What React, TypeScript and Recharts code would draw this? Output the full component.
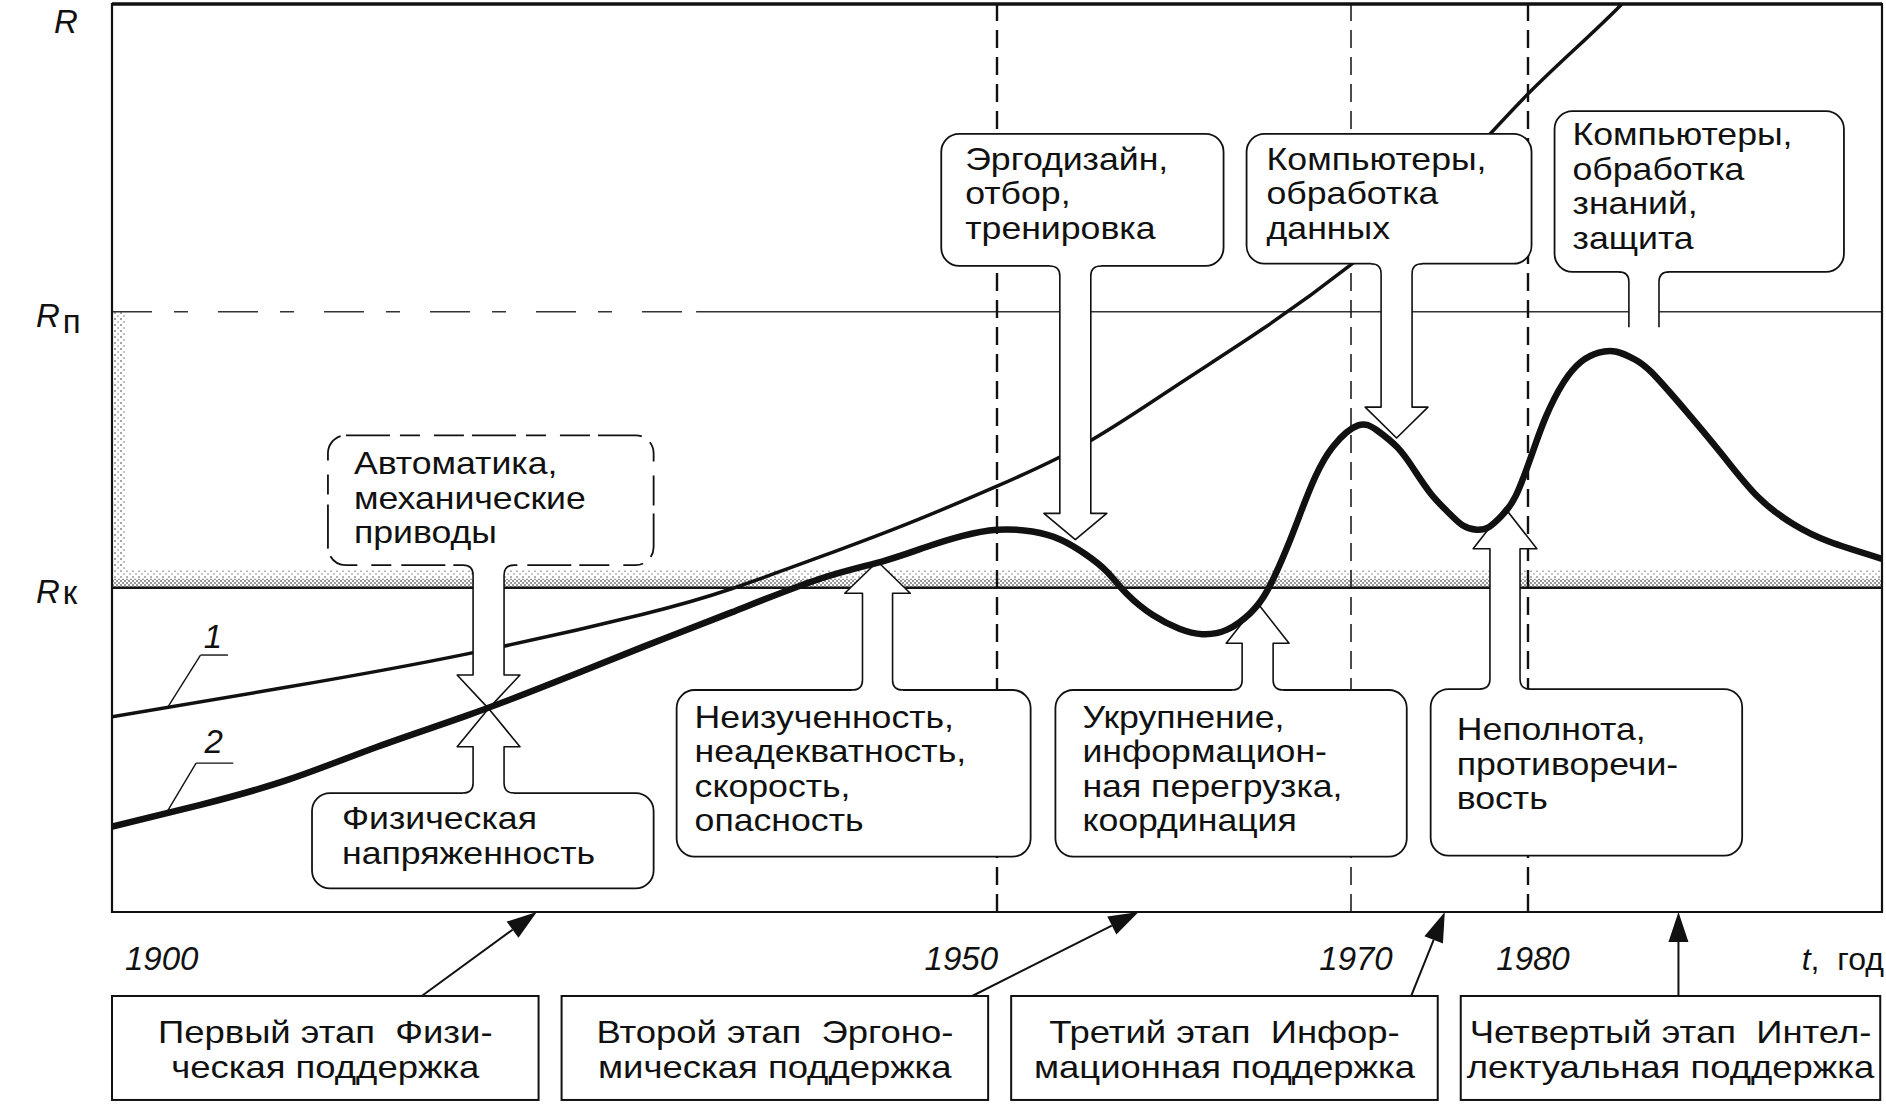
import { LineChart, Line, XAxis, YAxis, ReferenceArea, ReferenceLine, ReferenceDot } from 'recharts'

// curve 1 (thin) and curve 2 (thick)
const years1 = [1900, 1910, 1920, 1930, 1935, 1940, 1945, 1950, 1955, 1960, 1965, 1970, 1975, 1980, 1985, 1990]
const curve1 = [21.5, 24.8, 28.4, 32.8, 35.6, 39.1, 42.8, 46.9, 51.6, 57.8, 64.2, 71.3, 79.8, 90.1, 99.4, 110]

const years2 = [
  1900, 1905, 1910, 1915, 1920, 1925, 1930, 1935, 1940, 1943.5, 1946, 1948, 1950, 1952, 1953.6, 1955,
  1956.2, 1957.3, 1958.8, 1960.3, 1961.6, 1963, 1964.3, 1965.3, 1966.4, 1967.2, 1968, 1969, 1970.4,
  1971.5, 1972.6, 1973.5, 1974.5, 1975.5, 1976.3, 1977.1, 1977.8, 1978.5, 1979.3, 1980.2, 1981, 1982,
  1983, 1984, 1985, 1986, 1987, 1989, 1991, 1993, 1995, 1997, 2000,
]
const curve2 = [
  9.4, 11.8, 14.6, 18.2, 21.6, 25.3, 29.2, 33.0, 36.7, 38.6, 40.2, 41.4, 42.1, 41.9, 41.0, 39.4,
  37.5, 35.1, 32.7, 31.2, 30.6, 31.1, 32.9, 35.5, 40.2, 44.2, 48.0, 51.3, 53.6,
  53.0, 51.2, 48.9, 46.1, 44.0, 42.6, 42.1, 42.4, 43.6, 45.8, 50.3, 54.5, 58.3,
  60.6, 61.6, 61.7, 60.9, 59.4, 55.0, 50.3, 45.7, 42.7, 40.8, 38.9,
]

// levels R, Rп, Rк
const levelValues = [100, 66.1, 35.7]
const levelNames = ['', 'п', 'к']

const xTicks = [1900, 1950, 1970, 1980, 2000]
const xTickLabels = ['1900', '1950', '1970', '1980', 'год']

const stageLines = [
  ['Первый этап  Физи-', 'ческая поддержка'],
  ['Второй этап  Эргоно-', 'мическая поддержка'],
  ['Третий этап  Инфор-', 'мационная поддержка'],
  ['Четвертый этап  Интел-', 'лектуальная поддержка'],
]
const stageFrom = [1900, 1925.4, 1950.8, 1976.2]
const stageTo = [1924.1, 1949.5, 1974.9, 1999.9]
const stageArrowFrom = [1917.5, 1948.6, 1973.4, 1988.5]
const stageArrowTo = [1924.0, 1958.0, 1975.3, 1988.5]

const line1 = years1.map((t, i) => ({ t, v: curve1[i] }))
const line2 = years2.map((t, i) => ({ t, v: curve2[i] }))

type Note = {
  lines: string[]
  box: [number, number, number, number] // x1, x2, top value, bottom value
  dir: 'up' | 'down'
  stem: [number, number]
  wing: number
  flange: number
  tip?: number
  pad: [number, number]
  dashed?: boolean
}

const notes: Note[] = [
  { lines: ['Автоматика,', 'механические', 'приводы'], box: [1912.2, 1930.6, 52.5, 38.2], dir: 'down', stem: [1920.4, 1922.15], wing: 0.9, flange: 26.1, tip: 22.4, pad: [26, 39], dashed: true },
  { lines: ['Физическая', 'напряженность'], box: [1911.3, 1930.6, 13.1, 2.6], dir: 'up', stem: [1920.4, 1922.15], wing: 0.9, flange: 18.2, tip: 22.4, pad: [30, 36] },
  { lines: ['Неизученность,', 'неадекватность,', 'скорость,', 'опасность'], box: [1931.9, 1951.9, 24.45, 6.1], dir: 'up', stem: [1942.4, 1944.1], wing: 1.0, flange: 35.1, tip: 38.6, pad: [18, 38] },
  { lines: ['Эргодизайн,', 'отбор,', 'тренировка'], box: [1946.85, 1962.8, 85.7, 71.15], dir: 'down', stem: [1953.55, 1955.3], wing: 0.9, flange: 43.9, tip: 41.0, pad: [24, 36] },
  { lines: ['Компьютеры,', 'обработка', 'данных'], box: [1964.1, 1980.2, 85.7, 71.4], dir: 'down', stem: [1971.7, 1973.45], wing: 0.9, flange: 55.6, tip: 52.2, pad: [20, 36] },
  { lines: ['Укрупнение,', 'информацион-', 'ная перегрузка,', 'координация'], box: [1953.3, 1973.15, 24.45, 6.1], dir: 'up', stem: [1963.85, 1965.6], wing: 0.9, flange: 29.6, tip: 34.0, pad: [27, 38] },
  { lines: ['Компьютеры,', 'обработка', 'знаний,', 'защита'], box: [1981.5, 1997.85, 88.2, 70.5], dir: 'down', stem: [1985.7, 1987.4], wing: 0.9, flange: 64.4, pad: [18, 34] },
  { lines: ['Неполнота,', 'противоречи-', 'вость'], box: [1974.5, 1992.1, 24.55, 6.2], dir: 'up', stem: [1977.85, 1979.55], wing: 0.95, flange: 40.0, tip: 44.5, pad: [26, 51] },
]

const FONT = '"Liberation Sans", Arial, Helvetica, sans-serif'
const INK = '#111'
const NOTE_SIZE = 31
const NOTE_GAP = 34.5
const NOTE_STRETCH = 1.15

const boxShape = (n: Note) => (p: any) => {
  const { x, y, width, height } = p
  const tx = x + n.pad[0]
  return (
    <g>
      <rect x={x} y={y} width={width} height={height} rx={18} fill="#fff" stroke={INK} strokeWidth={1.8}
        strokeDasharray={n.dashed ? '44 10 20 14 30 8' : undefined} />
      <text x={tx} y={y + n.pad[1]} fontFamily={FONT} fontSize={NOTE_SIZE} fill={INK}
        transform={`matrix(${NOTE_STRETCH},0,0,1,${tx * (1 - NOTE_STRETCH)},0)`}>
        {n.lines.map((l, i) => (
          <tspan key={i} x={tx} dy={i === 0 ? 0 : NOTE_GAP}>{l}</tspan>
        ))}
      </text>
    </g>
  )
}

const stemShape = (n: Note, part: 'head' | 'stem') => (p: any) => {
  const { x, y, width: w, height: h } = p
  const edge = n.dir === 'down' ? n.box[3] : n.box[2]
  const end = n.tip ?? n.flange
  const x0 = n.stem[0] - n.wing
  const x1 = n.stem[1] + n.wing
  const hi = Math.max(edge, end)
  const lo = Math.min(edge, end)
  const sx = (t: number) => x + (w * (t - x0)) / (x1 - x0)
  const sy = (v: number) => y + (h * (hi - v)) / (hi - lo)
  const d = n.dir === 'down' ? 1 : -1
  const L = sx(n.stem[0])
  const R = sx(n.stem[1])
  const FL = sx(x0)
  const FR = sx(x1)
  const C = (L + R) / 2
  const e = sy(edge)
  const f = sy(n.flange)
  const r = 10
  if (part === 'head') {
    if (n.tip == null) return <g />
    const t = sy(n.tip)
    return <polygon points={`${FL},${f} ${C},${t} ${FR},${f}`} fill="#fff" />
  }
  const fill = `M${L - r},${e - 3 * d} L${L - r},${e} Q${L},${e} ${L},${e + r * d} L${L},${f} L${R},${f} L${R},${e + r * d} Q${R},${e} ${R + r},${e} L${R + r},${e - 3 * d} Z`
  let outline: string
  if (n.tip != null) {
    const t = sy(n.tip)
    outline = `M${L - r},${e} Q${L},${e} ${L},${e + r * d} L${L},${f} L${FL},${f} L${C},${t} L${FR},${f} L${R},${f} L${R},${e + r * d} Q${R},${e} ${R + r},${e}`
  } else {
    outline = `M${L - r},${e} Q${L},${e} ${L},${e + r * d} L${L},${f} M${R},${f} L${R},${e + r * d} Q${R},${e} ${R + r},${e}`
  }
  return (
    <g>
      <path d={fill} fill="#fff" stroke="none" />
      <path d={outline} fill="none" stroke={INK} strokeWidth={1.6} strokeLinejoin="round" />
    </g>
  )
}

const STAGE_STRETCH = 1.14

const stageShape = (lines: string[]) => (p: any) => {
  const { x, y, width, height } = p
  const cx = x + width / 2
  return (
    <g>
      <rect x={x} y={y} width={width} height={height} fill="#fff" stroke={INK} strokeWidth={2} />
      <text x={cx} y={y + 47} textAnchor="middle" fontFamily={FONT} fontSize={32} fill={INK} style={{ whiteSpace: 'pre' }}
        transform={`matrix(${STAGE_STRETCH},0,0,1,${cx * (1 - STAGE_STRETCH)},0)`}>
        {lines.map((l, i) => (
          <tspan key={i} x={cx} dy={i === 0 ? 0 : 35}>{l}</tspan>
        ))}
      </text>
    </g>
  )
}

const arrowShape = (p: any) => {
  const { x, y, width, height } = p
  const sx = x
  const sy = y + height
  const tx = x + width
  const ty = y
  const a = Math.atan2(ty - sy, tx - sx)
  const len = 30
  const hw = 10
  const bx = tx - len * Math.cos(a)
  const by = ty - len * Math.sin(a)
  const nx = -Math.sin(a) * hw
  const ny = Math.cos(a) * hw
  return (
    <g>
      <line x1={sx} y1={sy} x2={bx} y2={by} stroke={INK} strokeWidth={2} />
      <polygon points={`${tx},${ty} ${bx + nx},${by + ny} ${bx - nx},${by - ny}`} fill={INK} />
    </g>
  )
}

const YTick = (p: any) => {
  const { x, y, payload } = p
  const i = levelValues.indexOf(payload.value)
  const sub = levelNames[i]
  if (!sub) {
    return (
      <text x={x - 58} y={y + 29} fontFamily={FONT} fontSize={33} fontStyle="italic" fill={INK}>R</text>
    )
  }
  return (
    <text x={x - 76} y={y + 15} fontFamily={FONT} fontSize={33} fontStyle="italic" fill={INK}>
      R<tspan fontStyle="normal" dx={3} dy={sub === 'п' ? 6 : 1}>{sub}</tspan>
    </text>
  )
}

const XTick = (p: any) => {
  const { x, y, payload } = p
  const i = xTicks.indexOf(payload.value)
  const label = xTickLabels[i]
  if (payload.value === 2000) {
    return (
      <text x={x + 2} y={y + 58} textAnchor="end" fontFamily={FONT} fontSize={32} fill={INK} style={{ whiteSpace: 'pre' }}>
        <tspan fontStyle="italic">t</tspan>,  {label}
      </text>
    )
  }
  const anchor = payload.value === 1900 ? 'start' : payload.value === 1950 ? 'end' : 'middle'
  const dx = payload.value === 1900 ? 13 : payload.value === 1950 ? 1 : 5
  return (
    <text x={x + dx} y={y + 58} textAnchor={anchor} fontFamily={FONT} fontSize={33} fontStyle="italic" fill={INK}>
      {label}
    </text>
  )
}

const curveTag = (label: string) => (p: any) => (
  <text x={p.cx} y={p.cy} textAnchor="middle" fontFamily={FONT} fontSize={33} fontStyle="italic" fill={INK}>{label}</text>
)

export default function App() {
  return (
    <div style={{ width: 1886, height: 1104, background: '#fff' }}>
      <style>{'body{margin:0;background:#fff}'}</style>
      <LineChart width={1886} height={1104} margin={{ top: 4, right: 4, bottom: 0, left: 0 }}>
        <defs>
          <pattern id="dense" width="4" height="4" patternUnits="userSpaceOnUse">
            <rect width="2" height="2" fill="#333" />
            <rect x="2" y="2" width="2" height="2" fill="#333" />
          </pattern>
          <pattern id="sparse" width="6" height="6" patternUnits="userSpaceOnUse">
            <rect width="2" height="2" fill="#666" />
            <rect x="3" y="3" width="2" height="2" fill="#999" />
          </pattern>
        </defs>
        <XAxis type="number" dataKey="t" domain={[1900, 2000]} ticks={xTicks} allowDataOverflow
          axisLine={false} tickLine={false} tickSize={0} tickMargin={0} height={192} tick={<XTick />} interval={0} />
        <YAxis type="number" domain={[0, 100]} ticks={levelValues} allowDataOverflow
          axisLine={false} tickLine={false} tickSize={0} tickMargin={0} width={112} tick={<YTick />} interval={0} />

        {/* stippled bands */}
        <ReferenceArea x1={1900} x2={2000} y1={35.7} y2={36.7} fill="url(#dense)" stroke="none" ifOverflow="visible" zIndex={50} />
        <ReferenceArea x1={1900} x2={2000} y1={36.7} y2={37.6} fill="url(#sparse)" stroke="none" ifOverflow="visible" zIndex={50} />
        <ReferenceArea x1={1900} x2={1900.8} y1={37.6} y2={66.1} fill="url(#sparse)" fillOpacity={0.6} stroke="none" ifOverflow="visible" zIndex={50} />

        {/* levels and stage boundaries */}
        <ReferenceLine segment={[{ x: 1900, y: 66.1 }, { x: 1933, y: 66.1 }]} stroke="#333" strokeWidth={1.5} strokeDasharray="40 22 14 30" ifOverflow="visible" zIndex={60} />
        <ReferenceLine segment={[{ x: 1933, y: 66.1 }, { x: 2000, y: 66.1 }]} stroke="#333" strokeWidth={1.5} ifOverflow="visible" zIndex={60} />
        <ReferenceLine y={35.7} stroke={INK} strokeWidth={2.5} ifOverflow="visible" zIndex={60} />
        <ReferenceLine x={1950} stroke={INK} strokeWidth={2.4} strokeDasharray="18 9" ifOverflow="visible" zIndex={60} />
        <ReferenceLine x={1970} stroke={INK} strokeWidth={1.5} strokeDasharray="18 9" ifOverflow="visible" zIndex={60} />
        <ReferenceLine x={1980} stroke={INK} strokeWidth={2.4} strokeDasharray="18 9" ifOverflow="visible" zIndex={60} />

        {/* arrow heads sit under the curves */}
        {notes.map((n, i) => (
          <ReferenceArea key={`h${i}`} x1={n.stem[0] - n.wing} x2={n.stem[1] + n.wing}
            y1={n.dir === 'down' ? n.box[3] : n.box[2]} y2={n.tip ?? n.flange}
            ifOverflow="visible" zIndex={300} shape={stemShape(n, 'head')} />
        ))}

        <Line data={line1} dataKey="v" type="natural" stroke={INK} strokeWidth={3.5} dot={false} activeDot={false} isAnimationActive={false} zIndex={400} />
        <Line data={line2} dataKey="v" type="natural" stroke={INK} strokeWidth={6.5} dot={false} activeDot={false} isAnimationActive={false} zIndex={400} />

        {notes.map((n, i) => (
          <ReferenceArea key={`b${i}`} x1={n.box[0]} x2={n.box[1]} y1={n.box[3]} y2={n.box[2]}
            ifOverflow="visible" zIndex={700} shape={boxShape(n)} />
        ))}
        {notes.map((n, i) => (
          <ReferenceArea key={`s${i}`} x1={n.stem[0] - n.wing} x2={n.stem[1] + n.wing}
            y1={n.dir === 'down' ? n.box[3] : n.box[2]} y2={n.tip ?? n.flange}
            ifOverflow="visible" zIndex={800} shape={stemShape(n, 'stem')} />
        ))}

        {/* curve numbers */}
        <ReferenceLine segment={[{ x: 1903.1, y: 22.4 }, { x: 1905.0, y: 28.3 }]} stroke={INK} strokeWidth={1.4} ifOverflow="visible" zIndex={850} />
        <ReferenceLine segment={[{ x: 1905.0, y: 28.3 }, { x: 1906.55, y: 28.3 }]} stroke={INK} strokeWidth={1.4} ifOverflow="visible" zIndex={850} />
        <ReferenceLine segment={[{ x: 1903.1, y: 11.0 }, { x: 1904.75, y: 16.4 }]} stroke={INK} strokeWidth={1.4} ifOverflow="visible" zIndex={850} />
        <ReferenceLine segment={[{ x: 1904.75, y: 16.4 }, { x: 1906.85, y: 16.4 }]} stroke={INK} strokeWidth={1.4} ifOverflow="visible" zIndex={850} />
        <ReferenceDot x={1905.7} y={29.1} ifOverflow="visible" zIndex={850} shape={curveTag('1')} />
        <ReferenceDot x={1905.75} y={17.5} ifOverflow="visible" zIndex={850} shape={curveTag('2')} />

        {/* frame */}
        <ReferenceArea x1={1900} x2={2000} y1={0} y2={100} fill="none" stroke={INK} strokeWidth={2.2} ifOverflow="visible" zIndex={900} />
        <ReferenceLine y={100} stroke={INK} strokeWidth={3.5} ifOverflow="visible" zIndex={900} />

        {/* stages below the axis */}
        {stageLines.map((s, i) => (
          <ReferenceArea key={`st${i}`} x1={stageFrom[i]} x2={stageTo[i]} y1={-20.7} y2={-9.25}
            ifOverflow="visible" zIndex={900} shape={stageShape(s)} />
        ))}
        {stageArrowFrom.map((a, i) => (
          <ReferenceArea key={`sa${i}`} x1={a} x2={stageArrowTo[i]} y1={-9.25} y2={0}
            ifOverflow="visible" zIndex={900} shape={arrowShape} />
        ))}
      </LineChart>
    </div>
  )
}
